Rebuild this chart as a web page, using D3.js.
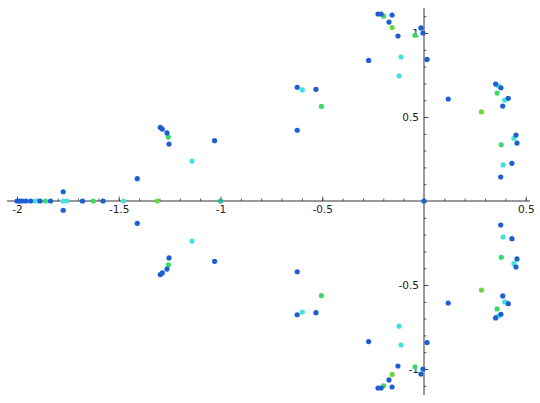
<!DOCTYPE html>
<html>
<head>
<meta charset="utf-8">
<script src="https://cdn.jsdelivr.net/npm/d3@7"></script>
<style>
  html, body { margin: 0; padding: 0; background: #fff; }
  svg { display: block; }
  .tick text { font-family: "DejaVu Sans", sans-serif; font-size: 10.5px; fill: #222; }
</style>
</head>
<body>
<svg id="chart" width="540" height="403"></svg>
<script>
// ---- data (complex points c = x + i y) ----
const bluePoints = [
  [-0.226, 1.113], [-0.211, 1.113], [-0.157, 1.107], [-0.172, 1.065], [-0.128, 0.982],
  [-0.015, 1.030], [-0.005, 1.000], [-0.272, 0.837], [0.015, 0.843], [0.119, 0.607],
  [-0.623, 0.677], [-0.531, 0.665], [-0.623, 0.421], [-1.296, 0.438], [-1.286, 0.428],
  [-1.263, 0.405], [-1.253, 0.339], [-1.029, 0.359], [-1.409, 0.133], [-1.773, 0.055],
  [0.352, 0.696], [0.378, 0.674], [0.414, 0.611], [0.387, 0.565], [0.452, 0.393],
  [0.457, 0.345], [0.432, 0.224], [0.377, 0.143],
  [-2.000, 0], [-1.988, 0], [-1.975, 0], [-1.956, 0], [-1.933, 0], [-1.887, 0],
  [-1.835, 0], [-1.678, 0], [-1.577, 0], [0, 0],
  [-0.226, -1.113], [-0.211, -1.113], [-0.157, -1.107], [-0.172, -1.065], [-0.128, -0.982],
  [-0.015, -1.030], [-0.005, -1.000], [-0.272, -0.837], [0.015, -0.843], [0.119, -0.607],
  [-0.623, -0.677], [-0.531, -0.665], [-0.623, -0.421], [-1.296, -0.438], [-1.286, -0.428],
  [-1.263, -0.405], [-1.253, -0.339], [-1.029, -0.359], [-1.409, -0.133], [-1.773, -0.055],
  [0.352, -0.696], [0.378, -0.674], [0.414, -0.611], [0.387, -0.565], [0.452, -0.393],
  [0.457, -0.345], [0.432, -0.224], [0.377, -0.143]
];
const cyanPoints = [
  [-0.113, 0.857], [-0.1226, 0.7449], [-0.598, 0.661], [-1.140, 0.238],
  [0.366, 0.685], [0.396, 0.601], [0.442, 0.373], [0.389, 0.215],
  [-1.912, 0], [-1.774, 0], [-1.755, 0], [-1.476, 0],
  [-0.113, -0.857], [-0.1226, -0.7449], [-0.598, -0.661], [-1.140, -0.238],
  [0.366, -0.685], [0.396, -0.601], [0.442, -0.373], [0.389, -0.215]
];
const greenPoints = [
  [-0.198, 1.100], [-0.0442, 0.9865], [-0.5043, 0.5627], [-1.2563, 0.3803],
  [0.3592, 0.6425], [0.3795, 0.3349],
  [-1.8607, 0], [-1.6254, 0],
  [-0.198, -1.100], [-0.0442, -0.9865], [-0.5043, -0.5627], [-1.2563, -0.3803],
  [0.3592, -0.6425], [0.3795, -0.3349]
];
const limePoints = [
  [-0.1565, 1.0323], [0.2822, 0.5301], [-1.3107, 0],
  [-0.1565, -1.0323], [0.2822, -0.5301]
];
const tealPoints = [[-1, 0]];

const xMajorTicks = [-2, -1.5, -1, -0.5, 0.5];
const xTickLabels = ["-2", "-1.5", "-1", "-0.5", "0.5"];
const yMajorTicks = [1, 0.5, -0.5, -1];
const yTickLabels = ["1", "0.5", "-0.5", "-1"];
const xMinorTicks = d3.range(-20, 6).map(k => k / 10);
const yMinorTicks = d3.range(-11, 12).map(k => k / 10);
const xExtent = [-2.049, 0.521];
const yExtent = [-1.155, 1.149];

// ---- drawing ----
const svg = d3.select("#chart");
const x = d3.scaleLinear().domain([-2, 0.5]).range([17, 525.75]);
const y = d3.scaleLinear().domain([-1, 1]).range([369, 33]);

const axisColor = "#333";

// axis lines
svg.append("line")
  .attr("x1", x(xExtent[0])).attr("x2", x(xExtent[1]))
  .attr("y1", y(0)).attr("y2", y(0))
  .attr("stroke", axisColor).attr("stroke-width", 1);
svg.append("line")
  .attr("x1", x(0)).attr("x2", x(0))
  .attr("y1", y(yExtent[0])).attr("y2", y(yExtent[1]))
  .attr("stroke", axisColor).attr("stroke-width", 1);

// x minor ticks
const xMinor = svg.append("g").attr("transform", `translate(0,${y(0)})`)
  .call(d3.axisBottom(x).tickValues(xMinorTicks).tickSize(-2.5).tickFormat(""));
// x major ticks + labels
const xMajor = svg.append("g").attr("transform", `translate(0,${y(0)})`)
  .call(d3.axisBottom(x).tickValues(xMajorTicks).tickSize(-4.5).tickPadding(5)
    .tickFormat((d, i) => xTickLabels[i]));
// y minor ticks
const yMinor = svg.append("g").attr("transform", `translate(${x(0)},0)`)
  .call(d3.axisLeft(y).tickValues(yMinorTicks).tickSize(-2.5).tickFormat(""));
// y major ticks + labels
const yMajor = svg.append("g").attr("transform", `translate(${x(0)},0)`)
  .call(d3.axisLeft(y).tickValues(yMajorTicks).tickSize(-4.5).tickPadding(5)
    .tickFormat((d, i) => yTickLabels[i]));

[xMinor, xMajor, yMinor, yMajor].forEach(g => {
  g.select(".domain").remove();
  g.selectAll(".tick line").attr("stroke", axisColor).attr("stroke-width", 0.8);
});

// points
const groups = [
  { pts: tealPoints, color: "#22b89a" },
  { pts: cyanPoints, color: "#44e2dc" },
  { pts: greenPoints, color: "#3ed86a" },
  { pts: limePoints, color: "#6cd83a" },
  { pts: bluePoints, color: "#1d5ed2" }
];
groups.forEach(gp => {
  svg.append("g").selectAll("circle").data(gp.pts).join("circle")
    .attr("cx", d => x(d[0])).attr("cy", d => y(d[1]))
    .attr("r", 2.6).attr("fill", gp.color);
});
</script>
</body>
</html>
